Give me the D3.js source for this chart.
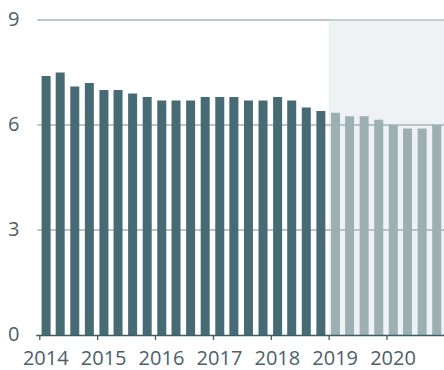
<!DOCTYPE html>
<html>
<head>
<meta charset="utf-8">
<script src="https://cdn.jsdelivr.net/npm/d3@7/dist/d3.min.js"></script>
<style>
  html, body { margin: 0; padding: 0; background: #fff; }
  svg { display: block; font-family: "Open Sans", sans-serif; }
</style>
</head>
<body>
<svg id="chart" width="444" height="370"></svg>
<script>
// Quarterly periods
const quarters = [
  "2014Q1","2014Q2","2014Q3","2014Q4",
  "2015Q1","2015Q2","2015Q3","2015Q4",
  "2016Q1","2016Q2","2016Q3","2016Q4",
  "2017Q1","2017Q2","2017Q3","2017Q4",
  "2018Q1","2018Q2","2018Q3","2018Q4",
  "2019Q1","2019Q2","2019Q3","2019Q4",
  "2020Q1","2020Q2","2020Q3","2020Q4"
];
const values = [
  7.4, 7.5, 7.1, 7.2,
  7.0, 7.0, 6.9, 6.8,
  6.7, 6.7, 6.7, 6.8,
  6.8, 6.8, 6.7, 6.7,
  6.8, 6.7, 6.5, 6.4,
  6.35, 6.25, 6.25, 6.15,
  6.0, 5.9, 5.9, 6.0
];
const forecastStart = "2019Q1";
const yTicks = [0, 3, 6, 9];
const xTickYears = [2014, 2015, 2016, 2017, 2018, 2019, 2020];

const parseQ = q => new Date(+q.slice(0, 4), (+q.slice(5) - 1) * 3, 1);
const qMid = q => { const d = parseQ(q); return new Date(d.getFullYear(), d.getMonth() + 1, 16); };

const svg = d3.select("#chart");
const mLeft = 39.3, mRight = 444.5, mTop = 20, mBottom = 335;

const x = d3.scaleTime()
  .domain([new Date(2014, 0, 1), new Date(2021, 0, 1)])
  .range([mLeft, mRight]);
const y = d3.scaleLinear().domain([0, 9]).range([mBottom, mTop]);

const fStart = x(parseQ(forecastStart));

// shaded forecast region
svg.append("rect")
  .attr("x", fStart).attr("y", y(9))
  .attr("width", 444 - fStart).attr("height", y(0) - y(9))
  .attr("fill", "#eef2f5");

// gridlines
svg.append("g").selectAll("line").data(yTicks.filter(d => d > 0)).join("line")
  .attr("x1", mLeft - 2).attr("x2", 444)
  .attr("y1", d => y(d)).attr("y2", d => y(d))
  .attr("stroke", "#a3b3b7").attr("stroke-width", 1.3);
// lighter top gridline over shaded area
svg.append("line")
  .attr("x1", fStart).attr("x2", 444).attr("y1", y(9)).attr("y2", y(9))
  .attr("stroke", "#c9d3d6").attr("stroke-width", 1.3);

// y labels
svg.append("g").selectAll("text").data(yTicks).join("text")
  .attr("x", 8).attr("y", d => y(d) - 2)
  .attr("dominant-baseline", "central")
  .attr("font-size", 20)
  .attr("fill", "#4b6168")
  .text(d => d);

// bars
const barW = 9;
const qIdx = quarters.indexOf(forecastStart);
svg.append("g").selectAll("rect").data(quarters).join("rect")
  .attr("x", d => x(qMid(d)) - barW / 2 - 0.5)
  .attr("width", barW)
  .attr("y", (d, i) => y(values[i]))
  .attr("height", (d, i) => y(0) - y(values[i]))
  .attr("fill", (d, i) => i < qIdx ? "#476b74" : "#9cafb2");

// x axis
const xAxis = d3.axisBottom(x)
  .tickValues(xTickYears.map(yr => new Date(yr, 0, 1)))
  .tickFormat(d3.timeFormat("%Y"))
  .tickSize(5)
  .tickSizeOuter(0);
const gx = svg.append("g").attr("transform", `translate(0,${mBottom})`).call(xAxis);
gx.select(".domain").attr("d", `M${mLeft - 3},0.5H444`).attr("stroke", "#3e5c64").attr("stroke-width", 1.3);
gx.selectAll(".tick line").attr("stroke", "#3e5c64").attr("stroke-width", 1.3);
gx.selectAll(".tick text")
  .attr("font-family", "Open Sans, sans-serif")
  .attr("font-size", 20)
  .attr("fill", "#4b6168")
  .attr("dy", 0)
  .attr("y", 30)
  .attr("x", 6);
</script>
</body>
</html>
